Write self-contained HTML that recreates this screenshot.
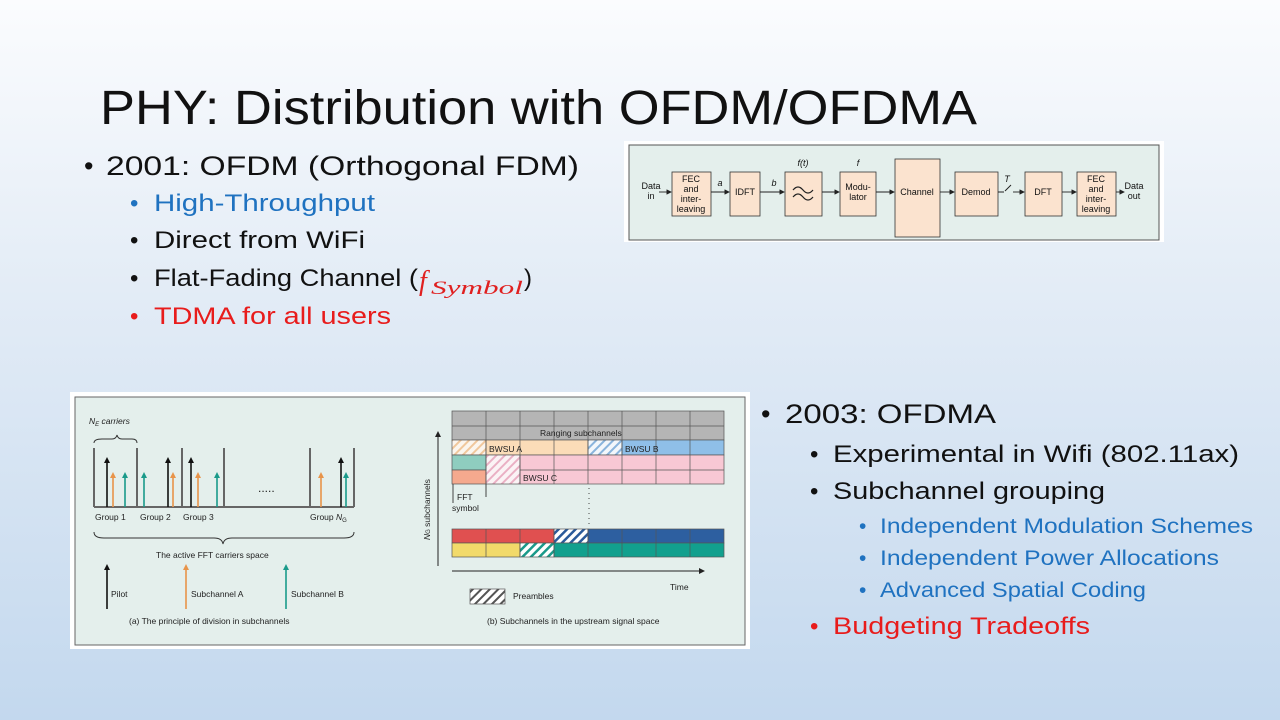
<!DOCTYPE html>
<html><head><meta charset="utf-8"><style>
html,body{margin:0;padding:0}
body{width:1280px;height:720px;overflow:hidden;background:linear-gradient(180deg,#fbfcfe 0%,#e3ecf6 40%,#c3d8ee 100%);font-family:"Liberation Sans",sans-serif}
svg{position:absolute;left:0;top:0}
</style></head><body>
<svg width="1280" height="720" viewBox="0 0 1280 720" xmlns="http://www.w3.org/2000/svg" font-family="Liberation Sans, sans-serif">
<defs>
<marker id="ah" markerWidth="6" markerHeight="6" refX="5" refY="3" orient="auto"><path d="M0,0 L6,3 L0,6 z" fill="#222"/></marker>
<pattern id="hb" width="6" height="6" patternUnits="userSpaceOnUse" patternTransform="rotate(45)"><rect width="6" height="6" fill="#fff"/><rect width="2.5" height="6" fill="#2a5a9a"/></pattern>
<pattern id="hg" width="6" height="6" patternUnits="userSpaceOnUse" patternTransform="rotate(45)"><rect width="6" height="6" fill="#fff"/><rect width="2.5" height="6" fill="#1a9a8a"/></pattern>
<pattern id="hk" width="6" height="6" patternUnits="userSpaceOnUse" patternTransform="rotate(45)"><rect width="6" height="6" fill="#fff"/><rect width="2" height="6" fill="#555"/></pattern>
<pattern id="ho" width="6" height="6" patternUnits="userSpaceOnUse" patternTransform="rotate(45)"><rect width="6" height="6" fill="#fbf5ee"/><rect width="2" height="6" fill="#f0c79c"/></pattern>
<pattern id="hp" width="6" height="6" patternUnits="userSpaceOnUse" patternTransform="rotate(45)"><rect width="6" height="6" fill="#fbf3f5"/><rect width="2" height="6" fill="#eab0c4"/></pattern>
<pattern id="hl" width="6" height="6" patternUnits="userSpaceOnUse" patternTransform="rotate(45)"><rect width="6" height="6" fill="#f3f7fb"/><rect width="2" height="6" fill="#8ab4dc"/></pattern>
</defs>

<text x="100" y="124" font-size="48" fill="#111" textLength="877" lengthAdjust="spacingAndGlyphs">PHY: Distribution with OFDM/OFDMA</text>

<g font-size="27">
<text x="84" y="175" fill="#111">•</text>
<text x="106" y="175" fill="#111" textLength="473" lengthAdjust="spacingAndGlyphs">2001: OFDM (Orthogonal FDM)</text>
</g>
<g font-size="24">
<text x="130" y="211" fill="#1f72c0">•</text><text x="154" y="211" fill="#1f72c0" textLength="221" lengthAdjust="spacingAndGlyphs">High-Throughput</text>
<text x="130" y="248" fill="#111">•</text><text x="154" y="248" fill="#111" textLength="211" lengthAdjust="spacingAndGlyphs">Direct from WiFi</text>
<text x="130" y="286" fill="#111">•</text><text x="154" y="286" fill="#111" textLength="264" lengthAdjust="spacingAndGlyphs">Flat-Fading Channel (</text>
<text x="419" y="290" fill="#e02020" font-family="Liberation Serif, serif" font-style="italic" font-size="28">f</text>
<text x="431" y="294" fill="#e02020" font-family="Liberation Serif, serif" font-style="italic" font-size="19" textLength="92" lengthAdjust="spacingAndGlyphs">Symbol</text>
<text x="524" y="286" fill="#111">)</text>
<text x="130" y="324" fill="#e81c1c">•</text><text x="154" y="324" fill="#e81c1c" textLength="237" lengthAdjust="spacingAndGlyphs">TDMA for all users</text>
</g>

<g font-size="27">
<text x="761" y="423" fill="#111">•</text>
<text x="785" y="423" fill="#111" textLength="211" lengthAdjust="spacingAndGlyphs">2003: OFDMA</text>
</g>
<g font-size="24">
<text x="810" y="462" fill="#111">•</text><text x="833" y="462" fill="#111" textLength="406" lengthAdjust="spacingAndGlyphs">Experimental in Wifi (802.11ax)</text>
<text x="810" y="499" fill="#111">•</text><text x="833" y="499" fill="#111" textLength="272" lengthAdjust="spacingAndGlyphs">Subchannel grouping</text>
<text x="810" y="634" fill="#e81c1c">•</text><text x="833" y="634" fill="#e81c1c" textLength="257" lengthAdjust="spacingAndGlyphs">Budgeting Tradeoffs</text>
</g>
<g font-size="21" fill="#1f72c0">
<text x="859" y="533">•</text><text x="880" y="533" textLength="373" lengthAdjust="spacingAndGlyphs">Independent Modulation Schemes</text>
<text x="859" y="565">•</text><text x="880" y="565" textLength="339" lengthAdjust="spacingAndGlyphs">Independent Power Allocations</text>
<text x="859" y="597">•</text><text x="880" y="597" textLength="266" lengthAdjust="spacingAndGlyphs">Advanced Spatial Coding</text>
</g>

<rect x="624" y="141" width="540" height="101" fill="#fff"/>
<rect x="629" y="145" width="530" height="95" fill="#e4efec" stroke="#555" stroke-width="1"/>
<g fill="#fbe3cf" stroke="#333" stroke-width="0.8">
<rect x="672" y="172" width="39" height="44"/>
<rect x="730" y="172" width="30" height="44"/>
<rect x="785" y="172" width="37" height="44"/>
<rect x="840" y="172" width="36" height="44"/>
<rect x="895" y="159" width="45" height="78"/>
<rect x="955" y="172" width="43" height="44"/>
<rect x="1025" y="172" width="37" height="44"/>
<rect x="1077" y="172" width="39" height="44"/>
</g>
<g stroke="#222" stroke-width="0.9" marker-end="url(#ah)">
<line x1="659" y1="192" x2="671" y2="192"/><line x1="711" y1="192" x2="729" y2="192"/>
<line x1="760" y1="192" x2="784" y2="192"/><line x1="822" y1="192" x2="839" y2="192"/>
<line x1="876" y1="192" x2="894" y2="192"/><line x1="940" y1="192" x2="954" y2="192"/>
<line x1="1013" y1="192" x2="1024" y2="192"/><line x1="1062" y1="192" x2="1076" y2="192"/>
<line x1="1116" y1="192" x2="1124" y2="192"/>
</g>
<line x1="998" y1="192" x2="1004" y2="192" stroke="#222"/><line x1="1005" y1="191" x2="1011" y2="185" stroke="#222"/>
<g font-size="9" fill="#111" text-anchor="middle">
<text x="651" y="189">Data</text><text x="651" y="199">in</text>
<text x="691" y="182">FEC</text><text x="691" y="192">and</text><text x="691" y="202">inter-</text><text x="691" y="212">leaving</text>
<text x="745" y="195">IDFT</text>
<text x="858" y="190">Modu-</text><text x="858" y="200">lator</text>
<text x="917" y="195">Channel</text>
<text x="976" y="195">Demod</text>
<text x="1043" y="195">DFT</text>
<text x="1096" y="182">FEC</text><text x="1096" y="192">and</text><text x="1096" y="202">inter-</text><text x="1096" y="212">leaving</text>
<text x="1134" y="189">Data</text><text x="1134" y="199">out</text>
<text x="720" y="186" font-style="italic">a</text><text x="774" y="186" font-style="italic">b</text>
<text x="803" y="166" font-style="italic">f(t)</text><text x="858" y="166" font-style="italic">f</text>
<text x="1007" y="182" font-style="italic">T</text>
</g>
<path d="M793,190 q5,-6 10,0 t10,0 M793,197 q5,-6 10,0 t10,0" fill="none" stroke="#222" stroke-width="1.2"/>

<rect x="70" y="392" width="680" height="257" fill="#fff"/>
<rect x="75" y="397" width="670" height="248" fill="#e4efec" stroke="#666" stroke-width="1"/>
<g stroke="#666" stroke-width="2" fill="none">
<line x1="94" y1="507" x2="354" y2="507"/>
<line x1="94" y1="448" x2="94" y2="507"/><line x1="137" y1="448" x2="137" y2="507"/>
<line x1="182" y1="448" x2="182" y2="507"/><line x1="224" y1="448" x2="224" y2="507"/>
<line x1="310" y1="448" x2="310" y2="507"/><line x1="354" y1="448" x2="354" y2="507"/>
</g>
<g stroke-width="1.6">
<g stroke="#111"><line x1="107" y1="507" x2="107" y2="461"/><line x1="168" y1="507" x2="168" y2="461"/><line x1="191" y1="507" x2="191" y2="461"/><line x1="341" y1="507" x2="341" y2="461"/><line x1="107" y1="609" x2="107" y2="568"/></g>
<g stroke="#e8944a"><line x1="113" y1="507" x2="113" y2="476"/><line x1="173" y1="507" x2="173" y2="476"/><line x1="198" y1="507" x2="198" y2="476"/><line x1="321" y1="507" x2="321" y2="476"/><line x1="186" y1="609" x2="186" y2="568"/></g>
<g stroke="#1a9a8a"><line x1="125" y1="507" x2="125" y2="476"/><line x1="144" y1="507" x2="144" y2="476"/><line x1="217" y1="507" x2="217" y2="476"/><line x1="346" y1="507" x2="346" y2="476"/><line x1="286" y1="609" x2="286" y2="568"/></g>
</g>
<g>
<g fill="#111"><path d="M104,463 l3,-6 l3,6z M165,463 l3,-6 l3,6z M188,463 l3,-6 l3,6z M338,463 l3,-6 l3,6z M104,570 l3,-6 l3,6z"/></g>
<g fill="#e8944a"><path d="M110,478 l3,-6 l3,6z M170,478 l3,-6 l3,6z M195,478 l3,-6 l3,6z M318,478 l3,-6 l3,6z M183,570 l3,-6 l3,6z"/></g>
<g fill="#1a9a8a"><path d="M122,478 l3,-6 l3,6z M141,478 l3,-6 l3,6z M214,478 l3,-6 l3,6z M343,478 l3,-6 l3,6z M283,570 l3,-6 l3,6z"/></g>
</g>
<path d="M94,443 q0,-4 8,-4 h10 q4,0 5,-4 q1,4 5,4 h10 q5,0 5,4" fill="none" stroke="#333"/>
<path d="M94,532 q0,6 10,6 h110 q8,0 9,6 q1,-6 9,-6 h112 q10,0 10,-6" fill="none" stroke="#333"/>
<g font-size="8.5" fill="#222">
<text x="89" y="424" font-style="italic">N<tspan font-size="6" dy="2">E</tspan><tspan dy="-2"> carriers</tspan></text>
<text x="95" y="520">Group 1</text><text x="140" y="520">Group 2</text><text x="183" y="520">Group 3</text><text x="310" y="520">Group <tspan font-style="italic">N</tspan><tspan font-size="6" dy="2">G</tspan></text>
<text x="258" y="492" font-size="12">.....</text>
<text x="156" y="558">The active FFT carriers space</text>
<text x="111" y="597">Pilot</text><text x="191" y="597">Subchannel A</text><text x="291" y="597">Subchannel B</text>
<text x="129" y="624">(a) The principle of division in subchannels</text>
<text x="487" y="624">(b) Subchannels in the upstream signal space</text>
<text x="670" y="590">Time</text>
<text x="513" y="599">Preambles</text>
<text x="457" y="500">FFT</text><text x="452" y="511">symbol</text>
</g>
<g stroke="#555" stroke-width="0.7">
<rect x="452" y="411" width="272" height="29" fill="#b5b5b5"/>
<rect x="452" y="440" width="34" height="15" fill="url(#ho)"/>
<rect x="486" y="440" width="102" height="15" fill="#fbdcb8"/>
<rect x="588" y="440" width="34" height="15" fill="url(#hl)"/>
<rect x="622" y="440" width="102" height="15" fill="#8fbfe8"/>
<rect x="452" y="455" width="34" height="15" fill="#8fcdbf"/>
<rect x="452" y="470" width="34" height="14" fill="#f5a98e"/>
<rect x="486" y="455" width="34" height="29" fill="url(#hp)"/>
<rect x="520" y="455" width="204" height="29" fill="#f8c8d4"/>
<rect x="452" y="529" width="102" height="14" fill="#e05050"/>
<rect x="554" y="529" width="34" height="14" fill="url(#hb)"/>
<rect x="588" y="529" width="136" height="14" fill="#2d5fa0"/>
<rect x="452" y="543" width="68" height="14" fill="#f2da6a"/>
<rect x="520" y="543" width="34" height="14" fill="url(#hg)"/>
<rect x="554" y="543" width="170" height="14" fill="#12a08e"/>
<path d="M486,411v73 M520,411v73 M554,411v73 M588,411v73 M622,411v73 M656,411v73 M690,411v73 M452,426h272 M520,470h204 M486,529v28 M520,529v28 M554,529v28 M588,529v28 M622,529v28 M656,529v28 M690,529v28" fill="none"/>
<rect x="470" y="589" width="35" height="15" fill="url(#hk)"/>
</g>
<g font-size="8.5" fill="#222">
<text x="540" y="436">Ranging subchannels</text>
<text x="489" y="452">BWSU A</text><text x="625" y="452">BWSU B</text><text x="523" y="481">BWSU C</text>
</g>
<line x1="589" y1="488" x2="589" y2="526" stroke="#444" stroke-dasharray="1,4"/>
<line x1="453" y1="484" x2="453" y2="503" stroke="#444"/><line x1="486" y1="484" x2="486" y2="497" stroke="#444"/>
<line x1="438" y1="566" x2="438" y2="432" stroke="#222" marker-end="url(#ah)"/>
<line x1="452" y1="571" x2="704" y2="571" stroke="#222" marker-end="url(#ah)"/>
<text transform="translate(430,540) rotate(-90)" font-size="8.5" fill="#222"><tspan font-style="italic">N</tspan><tspan font-size="6">G</tspan> subchannels</text>
</svg>
</body></html>
